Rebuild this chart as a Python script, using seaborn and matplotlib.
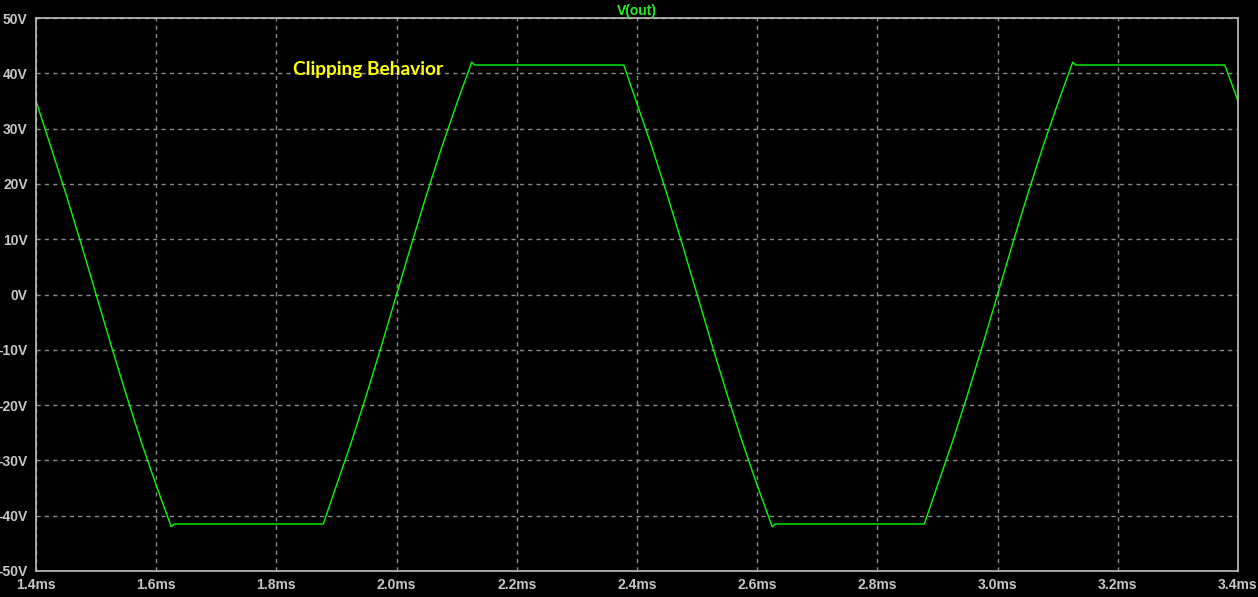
import matplotlib
matplotlib.use("Agg")
import matplotlib.pyplot as plt
import seaborn as sns
import pandas as pd

# Data (time in ms, voltage in V)
time_ms = [1.400, 1.425, 1.450, 1.475, 1.500, 1.525, 1.550, 1.575, 1.600, 1.625, 1.630,
           1.878, 1.900, 1.925, 1.950, 1.975, 2.000, 2.025, 2.050, 2.075, 2.100, 2.125, 2.130,
           2.378, 2.400, 2.425, 2.450, 2.475, 2.500, 2.525, 2.550, 2.575, 2.600, 2.625, 2.630,
           2.878, 2.900, 2.925, 2.950, 2.975, 3.000, 3.025, 3.050, 3.075, 3.100, 3.125, 3.130,
           3.378, 3.400]
v_out = [35.0, 26.6, 18.1, 9.2, 0.0, -9.2, -18.1, -26.6, -34.5, -42.0, -41.5,
         -41.5, -34.5, -26.6, -18.1, -9.2, 0.0, 9.2, 18.1, 26.6, 34.5, 42.0, 41.5,
         41.5, 34.5, 26.6, 18.1, 9.2, 0.0, -9.2, -18.1, -26.6, -34.5, -42.0, -41.5,
         -41.5, -34.5, -26.6, -18.1, -9.2, 0.0, 9.2, 18.1, 26.6, 34.5, 42.0, 41.5,
         41.5, 35.0]

x_ticks = [1.4, 1.6, 1.8, 2.0, 2.2, 2.4, 2.6, 2.8, 3.0, 3.2, 3.4]
x_labels = ["1.4ms", "1.6ms", "1.8ms", "2.0ms", "2.2ms", "2.4ms", "2.6ms", "2.8ms", "3.0ms", "3.2ms", "3.4ms"]
y_ticks = [-50, -40, -30, -20, -10, 0, 10, 20, 30, 40, 50]
y_labels = ["-50V", "-40V", "-30V", "-20V", "-10V", "0V", "10V", "20V", "30V", "40V", "50V"]

series_name = "V(out)"
annotation = "Clipping Behavior"

sns.set_style("dark")
plt.rcParams["font.family"] = ["Liberation Sans", "DejaVu Sans"]

fig = plt.figure(figsize=(12.58, 5.97), dpi=100, facecolor="black")
ax = fig.add_axes([36 / 1258, 26 / 597, 1202 / 1258, 553 / 597])
ax.set_facecolor("black")

df = pd.DataFrame({"t": time_ms, "v": v_out})
sns.lineplot(data=df, x="t", y="v", ax=ax, color="#00ff00", linewidth=1.0,
             sort=False, estimator=None)

ax.set_xlim(1.4, 3.4)
ax.set_ylim(-50, 50)
ax.set_xticks(x_ticks)
ax.set_xticklabels(x_labels)
ax.set_yticks(y_ticks)
ax.set_yticklabels(y_labels)
ax.set_xlabel("")
ax.set_ylabel("")

tick_color = "#c8c8c8"
for s in ax.spines.values():
    s.set_visible(True)
    s.set_color("#c0c0c0")
    s.set_linewidth(1.2)

ax.tick_params(axis="both", colors=tick_color, labelsize=10, direction="out", width=1)
ax.tick_params(axis="y", length=5, pad=1)
ax.tick_params(axis="x", length=3, pad=2)
for lab in ax.get_xticklabels() + ax.get_yticklabels():
    lab.set_fontweight("bold")
    lab.set_color(tick_color)

ax.grid(True, color="#8a8a8a", linestyle=(0, (3, 3)), linewidth=1.0)

ax.set_title(series_name, color="#22ee22", fontsize=10, fontweight="bold", pad=2)

ax.text(1.8276, 40.6, annotation, color="#ffff00", fontsize=13.8, fontweight="bold",
        family=["Lato", "DejaVu Sans"], ha="left", va="center")

fig.savefig("out.png", dpi=100, facecolor="black")
